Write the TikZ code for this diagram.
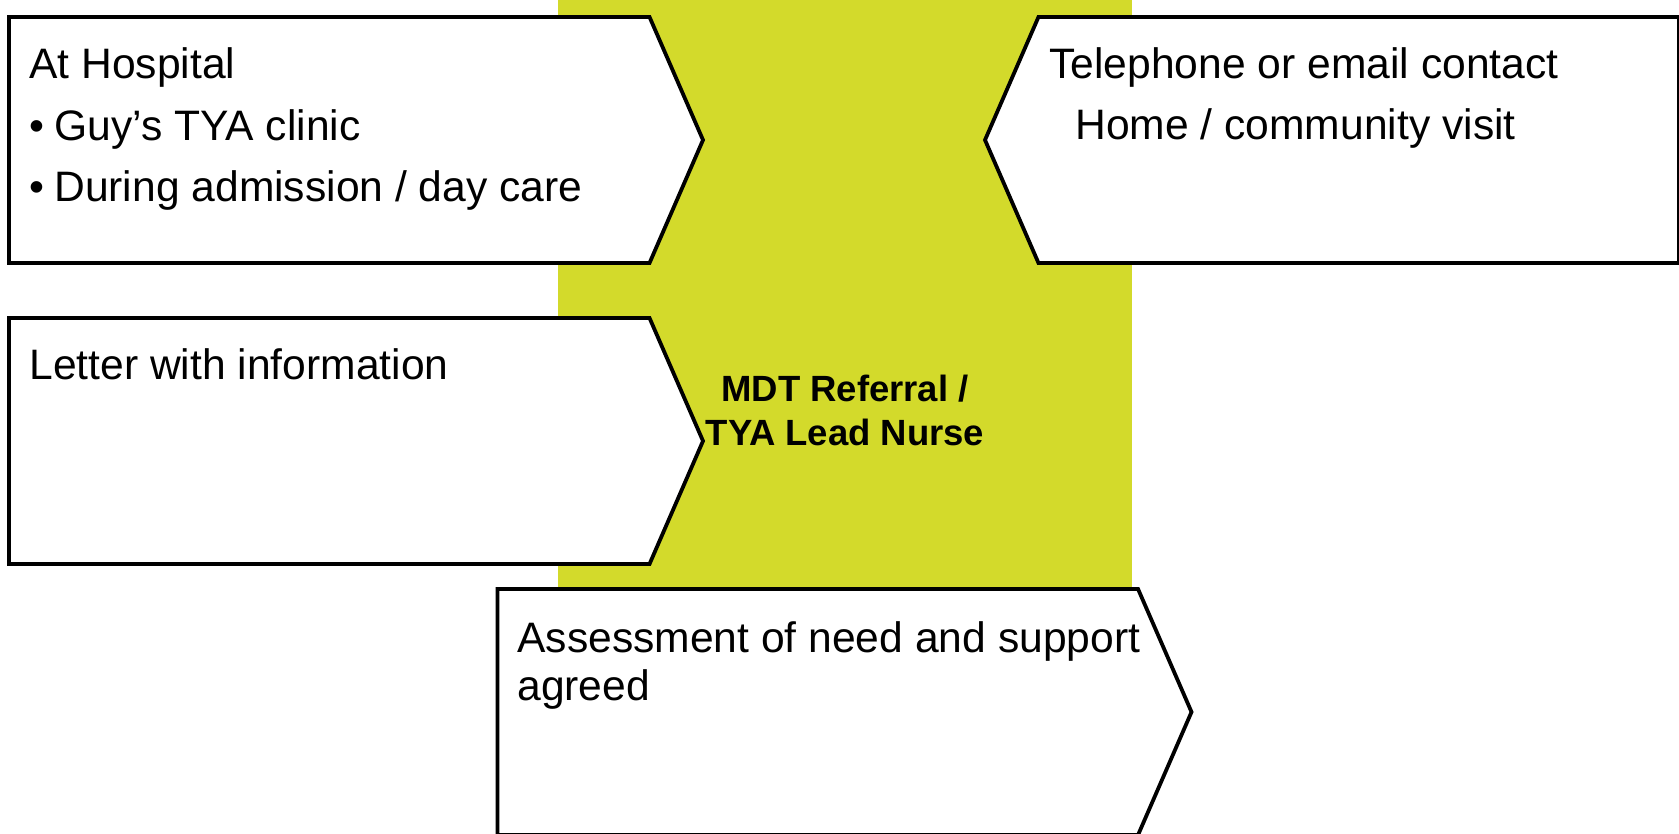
\documentclass[tikz,border=0pt]{standalone}
\usepackage{fontspec}
\setmainfont{Liberation Sans}
\usetikzlibrary{shapes.symbols, positioning}
\definecolor{mdtgreen}{RGB}{211,218,43}
\tikzstyle{chevron} = [signal, signal pointer angle=133, minimum width=347pt, minimum height=123pt, inner sep=0pt, outer sep=0pt, draw=black, line width=1.9pt, fill=white]
\tikzstyle{boxtext} = [anchor=base west, align=left, inner sep=0pt, font=\fontsize{21.3}{24}\selectfont]
\tikzstyle{leadtext} = [anchor=base, align=center, inner sep=0pt, font=\fontsize{18.25}{22}\selectfont\bfseries]

\begin{document}
\begin{tikzpicture}[x=0.5pt, y=-0.5pt]
    \useasboundingbox (0,0) rectangle (1679,834);
    \clip (0,0) rectangle (1679,834);
    \node (lead_bg) [rectangle, fill=mdtgreen, minimum width=287pt, minimum height=293.5pt, inner sep=0pt, anchor=north west] at (558,0) {};

    \node (hospital) [chevron, signal to=east, anchor=west] at (9,140) {};
    \node (phone) [chevron, signal to=west, anchor=west] at (985,140) {};
    \node (letter) [chevron, signal to=east, anchor=west] at (9,441) {};
    \node (assessment) [chevron, signal to=east, anchor=west] at (497.5,712) {};

    % text placed at the baseline of its last line
    \node (hospital_text) [boxtext] at (29,202) {At Hospital\\[6.75pt]\makebox[12.5pt][l]{•}Guy’s TYA clinic\\[6.75pt]\makebox[12.5pt][l]{•}During admission / day care};
    \node (phone_text) [boxtext] at (1049,140) {Telephone or email contact\\[6.75pt]\hspace*{13pt}Home / community visit};
    \node (letter_text) [boxtext] at (29,379) {Letter with information};
    \node (assessment_text) [boxtext] at (517,700) {Assessment of need and support\\agreed};
    \node (lead_text) [leadtext] at (845,445) {MDT Referral /\\TYA Lead Nurse};
\end{tikzpicture}
\end{document}
